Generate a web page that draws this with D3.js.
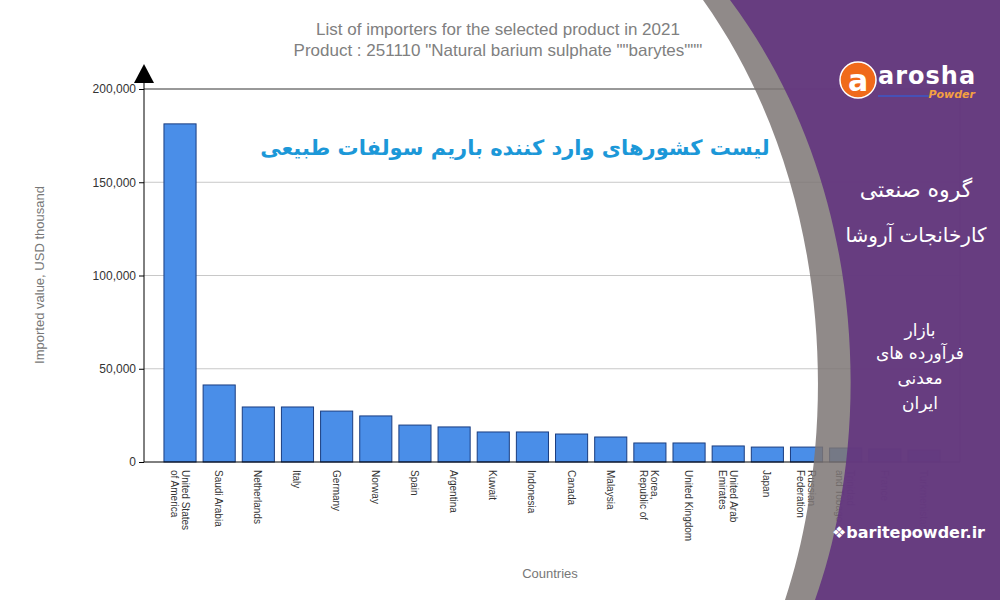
<!DOCTYPE html>
<html><head><meta charset="utf-8">
<script src="https://cdn.jsdelivr.net/npm/d3@7"></script>
<style>body{margin:0;background:#fff}svg{display:block}</style></head>
<body><svg id="c" width="1000" height="600"></svg>
<script>
const countries=["United States of America","Saudi Arabia","Netherlands","Italy","Germany","Norway","Spain","Argentina","Kuwait","Indonesia","Canada","Malaysia","Korea, Republic of","United Kingdom","United Arab Emirates","Japan","Russian Federation","Trinidad and Tobago","France","Turkmenistan"];
const labelLines=[["United States","of America"],["Saudi Arabia"],["Netherlands"],["Italy"],["Germany"],["Norway"],["Spain"],["Argentina"],["Kuwait"],["Indonesia"],["Canada"],["Malaysia"],["Korea,","Republic of"],["United Kingdom"],["United Arab","Emirates"],["Japan"],["Russian","Federation"],["Trinidad","and Tobago"],["France"],["Turkmenistan"]];
const values=[181300,41300,29500,29500,27300,24700,19800,18800,16100,16100,15000,13400,10200,10200,8600,8000,8000,7500,7000,6400];
const yTicks=[0,50000,100000,150000,200000];

const svg=d3.select("#c");
const F="Liberation Sans, Arial, sans-serif";
const x=d3.scaleBand().domain(countries).range([162,942]).paddingInner(0.18).paddingOuter(0.05);
const y=d3.scaleLinear().domain([0,200000]).range([462,89]);

svg.append("text").attr("x",498).attr("y",35).attr("text-anchor","middle").attr("font-family",F).attr("font-size",17).attr("fill","#808080").text("List of importers for the selected product in 2021");
svg.append("text").attr("x",498).attr("y",56).attr("text-anchor","middle").attr("font-family",F).attr("font-size",17).attr("fill","#808080").text('Product : 251110 "Natural barium sulphate ""barytes"""');

svg.append("g").selectAll("line").data(yTicks.slice(1)).join("line")
 .attr("x1",144).attr("x2",960).attr("y1",d=>y(d)).attr("y2",d=>y(d))
 .attr("stroke",d=>d===200000?"#333":"#c8c8c8").attr("stroke-width",1);
svg.append("line").attr("x1",960).attr("x2",960).attr("y1",89).attr("y2",462).attr("stroke","#333");

const ya=svg.append("g").attr("transform","translate(144,0)").call(d3.axisLeft(y).tickValues(yTicks).tickFormat(d3.format(",")).tickSize(5));
ya.select(".domain").attr("d","M0,462V75").attr("stroke","#000");
ya.selectAll("text").attr("font-family",F).attr("font-size",12).attr("fill","#333");
ya.selectAll(".tick line").attr("stroke","#000");
svg.append("path").attr("d","M134,83L144,64L154,83Z").attr("fill","#000");

svg.append("g").selectAll("rect").data(values).join("rect")
 .attr("x",(d,i)=>x(countries[i])).attr("width",x.bandwidth())
 .attr("y",d=>y(d)).attr("height",d=>462-y(d))
 .attr("fill","#4a8ee8").attr("stroke","#1a3d80").attr("stroke-width",1);
svg.append("line").attr("x1",144).attr("x2",960).attr("y1",462).attr("y2",462).attr("stroke","#000");

const xl=svg.append("g");
labelLines.forEach((ls,i)=>{
  const cx=x(countries[i])+x.bandwidth()/2;
  const t=xl.append("text").attr("transform",`translate(${cx},470) rotate(90)`).attr("font-family",F).attr("font-size",10).attr("fill","#333");
  ls.forEach((l,j)=>t.append("tspan").attr("x",0).attr("y",(j-(ls.length-1)/2)*11+4).text(l));
});

svg.append("text").attr("transform","translate(44,275) rotate(-90)").attr("text-anchor","middle").attr("font-family",F).attr("font-size",13).attr("fill","#777").text("Imported value, USD thousand");
svg.append("text").attr("x",550).attr("y",578).attr("text-anchor","middle").attr("font-family",F).attr("font-size",13).attr("fill","#777").text("Countries");

svg.append("text").attr("x",515).attr("y",155).attr("text-anchor","middle").attr("font-family","DejaVu Sans, sans-serif").attr("font-weight","bold").attr("font-size",21).attr("fill","#1c98d8").attr("direction","rtl").text("لیست کشورهای وارد کننده باریم سولفات طبیعی");

svg.append("path").attr("d","M703,0 C838,190 838,440 785,600 L1000,600 L1000,0Z").attr("fill","#7d7674").attr("opacity",0.85);
svg.append("path").attr("d","M730,0 C872,190 872,440 815,600 L1000,600 L1000,0Z").attr("fill","#63347f").attr("opacity",0.9);

svg.append("circle").attr("cx",858).attr("cy",80).attr("r",18).attr("fill","#f06a1a").attr("stroke","#fff").attr("stroke-width",1.5);
svg.append("text").attr("x",858).attr("y",91).attr("text-anchor","middle").attr("font-family","DejaVu Sans").attr("font-weight","bold").attr("font-size",30).attr("fill","#fff").text("a");
svg.append("text").attr("x",878).attr("y",84).attr("font-family","DejaVu Sans").attr("font-weight","bold").attr("font-size",24).attr("letter-spacing",1).attr("fill","#fff").text("arosha");
svg.append("line").attr("x1",878).attr("x2",932).attr("y1",96).attr("y2",96).attr("stroke","#3b58c8").attr("stroke-width",1.5);
svg.append("text").attr("x",975).attr("y",98).attr("text-anchor","end").attr("font-family","DejaVu Sans").attr("font-weight","bold").attr("font-style","italic").attr("font-size",11).attr("fill","#f5a040").text("Powder");

const P="DejaVu Sans, sans-serif";
[["گروه صنعتی",197,22],["کارخانجات آروشا",242,20]].forEach(d=>svg.append("text").attr("x",916).attr("y",d[1]).attr("text-anchor","middle").attr("font-family",P).attr("font-size",d[2]).attr("fill","#fff").attr("direction","rtl").text(d[0]));
[["بازار",336],["فرآورده های",359],["معدنی",384],["ایران",409]].forEach(d=>svg.append("text").attr("x",920).attr("y",d[1]).attr("text-anchor","middle").attr("font-family",P).attr("font-size",17).attr("fill","#fff").attr("direction","rtl").text(d[0]));
svg.append("text").attr("x",985).attr("y",538).attr("text-anchor","end").attr("font-family",P).attr("font-weight","bold").attr("font-size",16).attr("fill","#fff").text("❖baritepowder.ir");
</script></body></html>
